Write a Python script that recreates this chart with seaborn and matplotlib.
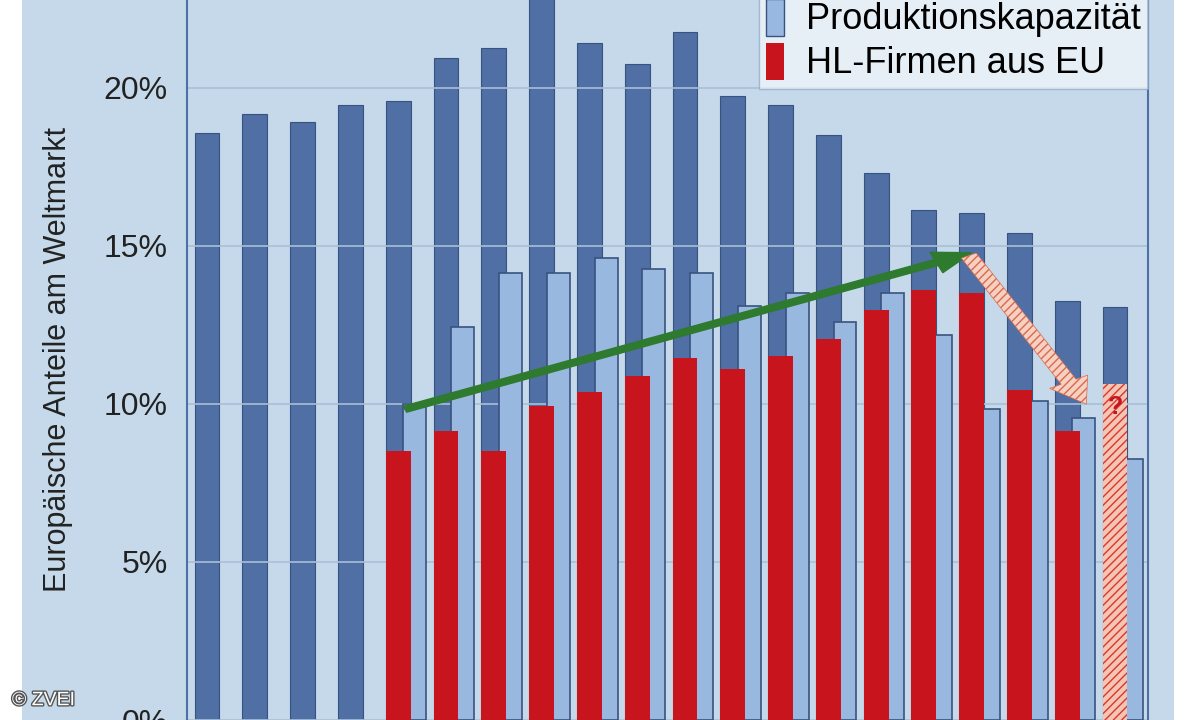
import matplotlib
matplotlib.use("Agg")
import matplotlib.pyplot as plt
import seaborn as sns
import pandas as pd
import numpy as np
from matplotlib.patches import FancyArrow, Patch
import matplotlib.patheffects as pe

plt.rcParams["font.family"] = "Liberation Sans"

groups = list(range(20))
markt = [18.57, 19.17, 18.92, 19.45, 19.58, 20.93, 21.27, 23.0, 21.4, 20.74,
         21.77, 19.74, 19.45, 18.5, 17.29, 16.13, 16.03, 15.4, 13.24, 13.06]
hl_eu = [np.nan, np.nan, np.nan, np.nan, 8.5, 9.14, 8.5, 9.93, 10.36, 10.89,
         11.46, 11.11, 11.52, 12.05, 12.96, 13.59, 13.5, 10.45, 9.14, 10.62]
kapaz = [np.nan, np.nan, np.nan, np.nan, 10.0, 12.43, 14.15, 14.15, 14.6, 14.28,
         14.15, 13.09, 13.5, 12.6, 13.5, 12.18, 9.83, 10.1, 9.55, 8.26]
yticks = [0, 5, 10, 15, 20]

DARK, LIGHT, RED, BG = "#4f6fa5", "#98b8e0", "#c8141c", "#c5d9ea"

fig = plt.figure(figsize=(12, 7.2), dpi=100, facecolor="white")
bgax = fig.add_axes([0.018, 0, 0.96, 1])
bgax.set_facecolor(BG); bgax.set_xticks([]); bgax.set_yticks([])
for s in bgax.spines.values(): s.set_visible(False)
ax = fig.add_axes([187/1200, 0, (1148-187)/1200, 1])
ax.set_facecolor("none")

df = pd.DataFrame({"g": groups, "markt": markt, "hl": hl_eu,
                   "kap": kapaz, "gk": [g + 0.35 for g in groups]})
sns.barplot(data=df, x="g", y="markt", native_scale=True, width=0.52,
            color=DARK, saturation=1, edgecolor="#3a5280", linewidth=0.8, ax=ax, zorder=2)
for yv in yticks:
    ax.axhline(yv, color="#a9bfd6", lw=1.2, zorder=2.5)
sns.barplot(data=df.dropna(), x="gk", y="kap", native_scale=True, width=0.48,
            color=LIGHT, saturation=1, edgecolor="#3a5280", linewidth=1.2, ax=ax, zorder=3)
sns.barplot(data=df.dropna(), x="g", y="hl", native_scale=True, width=0.52,
            color=RED, saturation=1, linewidth=0, ax=ax, zorder=4)
last = ax.patches[-1]
last.set_facecolor("#f4c4b4"); last.set_hatch("////"); last.set_edgecolor("#d8382e")
ax.text(19, 9.9, "?", color=RED, fontsize=18, fontweight="bold", ha="center", va="center", zorder=6)

ax.set_xlim(-0.42, 19.69)
ax.set_ylim(0.2, 726.5/31.9)
ax.set_yticks(yticks)
ax.set_yticklabels([f"{v}%" for v in yticks], fontsize=23, color="#222222")
ax.tick_params(axis="y", length=0, pad=14)
ax.set_xticks([])
ax.set_xlabel("")
ax.set_ylabel("Europäische Anteile am Weltmarkt", fontsize=22, color="#222222", labelpad=22)
for s in ["top", "bottom"]:
    ax.spines[s].set_visible(False)
for s in ["left", "right"]:
    ax.spines[s].set_color("#4f6fa5"); ax.spines[s].set_linewidth(1.5)

ax.add_patch(FancyArrow(4.14, 9.83, 16.0 - 4.14, 14.78 - 9.83, width=0.2, head_width=0.7,
                        head_length=0.8, length_includes_head=True, color="#2e7a2e", zorder=7))
ax.add_patch(FancyArrow(15.94, 14.69, 18.4 - 15.94, 9.99 - 14.69, width=0.35, head_width=0.9,
                        head_length=0.8, length_includes_head=True, facecolor="#f6d0c0",
                        edgecolor="#d86a50", hatch="////", lw=0.5, zorder=7))

leg = ax.legend(handles=[Patch(facecolor=LIGHT, edgecolor="#3a5280", label="Produktionskapazität"),
                         Patch(facecolor=RED, label="HL-Firmen aus EU")],
                loc="lower right", bbox_to_anchor=(1.0, 0.877), fontsize=26, frameon=True,
                framealpha=0.6, edgecolor="#7f9cc0", fancybox=False, handlelength=0.5,
                handleheight=1.2, handletextpad=0.6, borderaxespad=0, labelspacing=0.15,
                borderpad=0.2)
leg.set_zorder(8)
fig.text(0.01, 0.015, "© ZVEI", fontsize=14, color="white", ha="left", va="bottom",
         path_effects=[pe.withStroke(linewidth=2, foreground="#555555")])
fig.savefig("out.png", dpi=100)
